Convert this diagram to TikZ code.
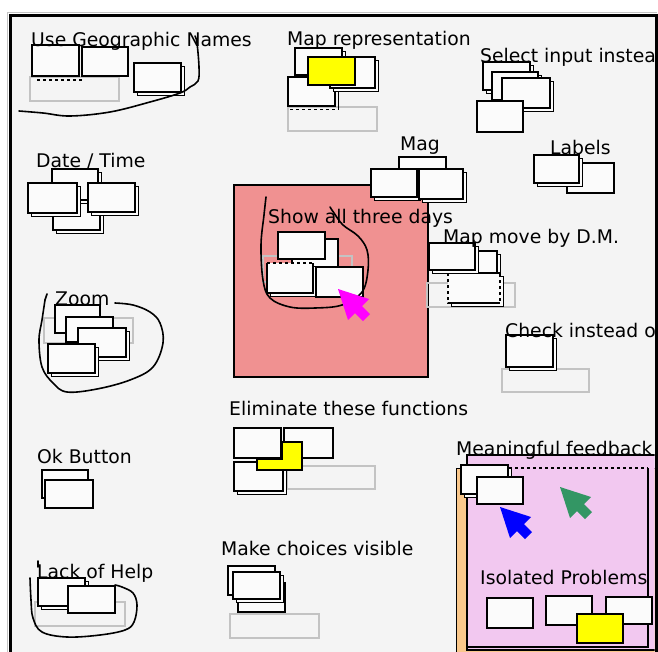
\documentclass[tikz,border=0pt]{standalone}
\usepackage{fontspec}
\setmainfont{DejaVu Sans}
\definecolor{bgc}{RGB}{244,244,244}
\definecolor{boxc}{RGB}{251,251,251}
\definecolor{redc}{RGB}{240,145,145}
\definecolor{pinkc}{RGB}{242,200,240}
\definecolor{orangec}{RGB}{250,200,140}
\definecolor{yelc}{RGB}{255,255,0}
\definecolor{grayln}{RGB}{195,195,195}
\definecolor{greenc}{RGB}{51,150,100}
\definecolor{magc}{RGB}{255,0,255}
\definecolor{bluec}{RGB}{0,0,255}
\newcommand\bx[4]{\draw[box] (#1,#2) rectangle (#3,#4);}
\newcommand\stk[4]{\draw[box] ({#1+3.5},{#2+3.5}) rectangle ({#3+3.5},{#4+3.5});\draw[box] (#1,#2) rectangle (#3,#4);}
\newcommand\gbx[4]{\draw[gbox] (#1,#2) rectangle (#3,#4);}
\newcommand\cursorat[3]{\fill[#1] (#2,#3) -- +(31,10) -- +(24,17) -- +(32,25) -- +(25,32) -- +(17,24) -- +(10,31) -- cycle;}
\begin{document}
\begin{tikzpicture}[x=1pt,y=-1pt,
  box/.style={draw=black,line width=1.5pt,fill=boxc},
  gbox/.style={draw=grayln,line width=1.4pt},
  lasso/.style={draw=black,line width=1.6pt,line cap=round,line join=round},
  lbl/.style={anchor=base west,inner sep=0pt,font=\fontsize{18.8}{21}\selectfont}]
\useasboundingbox (0,0) rectangle (658,651);
\fill[white] (0,0) rectangle (658,651);
\fill[bgc] (10,15) rectangle (656,660);
\begin{scope}
\clip (11.5,16.5) rectangle (654.5,652);
% regions
\draw[fill=redc,line width=1.5pt] (234,185) rectangle (428,377);
\draw[fill=orangec,line width=0.9pt] (456,468) rectangle (670,670);
\draw[fill=pinkc,line width=1.5pt] (467,455) rectangle (670,650);
\draw[dashed,line width=1.3pt] (467,468) -- (648,468);
\draw[line width=1.5pt] (648,468) -- (648,647) -- (467,647);
% gray outlines
\gbx{30}{77}{119}{101}
\gbx{288}{107}{377}{131}
\gbx{44}{318}{133}{343}
\gbx{263}{256}{352}{282}
\gbx{427}{283}{515}{307}
\gbx{502}{369}{589}{392}
\gbx{287}{466}{375}{489}
\gbx{35}{602}{125}{626}
\gbx{230}{614}{319}{638}
% Use Geographic Names
\bx{32}{45}{79}{76}
\bx{82}{47}{128}{76}
\draw[dashed,line width=1.3pt] (37,80) -- (82,80);
\stk{134}{63}{181}{92}
% Map representation
\stk{295}{48}{342}{75}
\bx{288}{77}{335}{106}
\draw[dashed,line width=1.3pt] (290,109.5) -- (338,109.5);
\draw[line width=1.3pt] (338.5,80) -- (338.5,109.5);
\stk{330}{57}{375}{88}
\draw[fill=yelc,line width=1.5pt] (308,57) rectangle (355,85);
% Select input
\stk{483}{62}{530}{90}
\stk{492}{72}{538}{100}
\stk{502}{78}{550}{108}
\bx{477}{101}{523}{132}
% Mag
\bx{399}{157}{446}{180}
\stk{371}{169}{417}{197}
\stk{419}{169}{463}{199}
% Labels
\bx{567}{163}{614}{193}
\stk{534}{155}{579}{183}
% Date / Time
\stk{53}{200}{100}{230}
\stk{52}{169}{98}{200}
\stk{88}{183}{135}{212}
\stk{28}{183}{77}{213}
% Zoom
\bx{55}{305}{100}{333}
\bx{66}{317}{113}{342}
\stk{78}{328}{126}{357}
\stk{48}{344}{95}{373}
% Show all three days
\bx{292}{239}{338}{268}
\bx{278}{232}{325}{259}
\draw[box] (270.5,266.5) rectangle (316.5,296.5);
\fill[boxc] (267,263) rectangle (313,293);
\draw[line width=1.5pt] (267,263) -- (267,293) -- (313,293) -- (313,263);
\draw[dashed,line width=1.3pt] (267,263) -- (313,263);
\bx{316}{267}{363}{297}
% Map move by D.M.
\stk{450}{251}{497}{277}
\draw[box] (451.5,276.5) rectangle (503.5,306.5);
\draw[box,dashed] (448,273) rectangle (500,303);
\draw[line width=1.5pt] (448,273) -- (500,273) (448,303) -- (500,303);
\stk{429}{243}{475}{270}
% Check instead
\stk{506}{335}{553}{367}
\draw[line width=2.4pt] (506,335) -- (553,335);
% Eliminate these functions
\bx{234}{428}{281}{458}
\bx{284}{428}{333}{458}
\stk{234}{462}{283}{491}
\draw[fill=yelc,line width=1.5pt] (282,442) -- (302,442) -- (302,470) -- (257,470) -- (257,459) -- (282,459) -- cycle;
% Ok Button
\bx{42}{470}{88}{498}
\bx{45}{480}{93}{508}
% Lack of Help
\stk{38}{578}{85}{606}
\bx{68}{586}{115}{613}
% Make choices visible
\bx{238}{583}{285}{612}
\bx{228}{566}{275}{595}
\stk{233}{572}{280}{599}
% Meaningful feedback
\stk{461}{465}{508}{494}
\bx{477}{477}{523}{504}
\bx{487}{598}{533}{628}
\bx{546}{596}{592}{625}
\bx{606}{597}{652}{624}
\draw[fill=yelc,line width=1.5pt] (577,614) rectangle (623,643);
% labels
\node[lbl] (tGeo) at (31,46) {Use Geographic Names};
\node[lbl] (tMap) at (287,45) {Map representation};
\node[lbl] (tSel) at (480,62) {Select input instea};
\node[lbl] (tMag) at (400,150) {Mag};
\node[lbl] (tLab) at (550,154) {Labels};
\node[lbl] (tDate) at (36,167) {Date / Time};
\node[lbl] (tShow) at (268,223) {Show all three days};
\node[lbl] (tMove) at (443,243) {Map move by D.M.};
\node[lbl] (tZoom) at (55,305) {Zoom};
\node[lbl] (tCheck) at (505,337) {Check instead o};
\node[lbl] (tElim) at (229,415) {Eliminate these functions};
\node[lbl] (tOk) at (37,463) {Ok Button};
\node[lbl] (tMean) at (456,455) {Meaningful feedback};
\node[lbl] (tMake) at (221,555) {Make choices visible};
\node[lbl] (tLack) at (37,578) {Lack of Help};
\node[lbl] (tIso) at (480,584) {Isolated Problems};
% lassos
\draw[lasso] plot[smooth,tension=0.6] coordinates {(19,111) (43,113) (70,116) (110,112) (150,102) (180,93) (190,87) (198,81) (199,67) (197,43) (195,36)};
\draw[lasso] (47,294) -- (45,300);
\draw[lasso] plot[smooth,tension=0.6] coordinates {(45,300) (42,320) (39,340) (42,367) (53,383) (67,392) (97,389) (130,380) (153,367) (163,343) (160,323) (150,312) (133,305) (115,303)};
\draw[lasso] plot[smooth,tension=0.6] coordinates {(266,197) (264,215) (261,245) (263,280) (270,298) (290,307) (315,308) (342,305) (362,292) (368,270) (367,250) (358,236) (343,225) (334,213) (330,207)};
\draw[lasso] (38,561) -- (38,567);
\draw[lasso] plot[smooth,tension=0.6] coordinates {(30,578) (31,600) (33,618) (42,632) (67,637) (100,635) (125,630) (134,622) (137,605) (133,593) (122,587) (115,585)};
% cursors
\cursorat{magc}{338}{289}
\cursorat{bluec}{500}{507}
\cursorat{greenc}{560}{487}
\end{scope}
\draw[grayln,line width=1pt] (7,660) -- (7,12) -- (657,12);
\draw[line width=3pt] (10,660) -- (10,15) -- (656,15) -- (656,660);
\end{tikzpicture}
\end{document}
